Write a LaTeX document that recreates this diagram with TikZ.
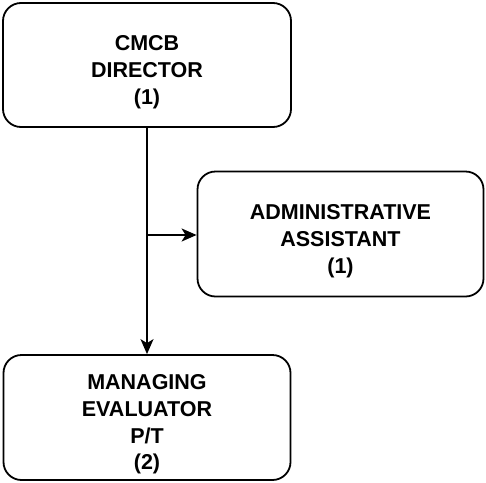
\documentclass[tikz,border=0pt]{standalone}
\usepackage{fontspec}
\setmainfont{Liberation Sans}
\usetikzlibrary{arrows.meta}
\begin{document}
\begin{tikzpicture}[x=1pt,y=-1pt,
  box/.style={draw=black,line width=1.8pt,rounded corners=18pt,fill=white,inner sep=0pt},
  txt/.style={align=center,font=\fontsize{21.5}{26.8}\selectfont\bfseries,inner sep=0pt,yshift=-7pt},
  conn/.style={line width=1.8pt,-{Stealth[length=15pt,width=13pt,inset=4pt]}}]
\useasboundingbox (0,0) rectangle (486,482);
\node[box,minimum width=288pt,minimum height=124pt] (dir) at (147,65) {};
\node[txt] (dirt) at (dir.center) {CMCB\\DIRECTOR\\(1)};
\node[box,minimum width=286pt,minimum height=125pt] (adm) at (340.5,234) {};
\node[txt] (admt) at (adm.center) {ADMINISTRATIVE\\ASSISTANT\\(1)};
\node[box,minimum width=287pt,minimum height=125pt] (mgr) at (147,417.5) {};
\node[txt] (mgrt) at (mgr.center) {MANAGING\\EVALUATOR\\P/T\\(2)};
\coordinate (br) at (147,235);
\draw[conn] (dir.south) -- (mgr.north);
\draw[conn] (br) -- (br -| adm.west);
\end{tikzpicture}
\end{document}
